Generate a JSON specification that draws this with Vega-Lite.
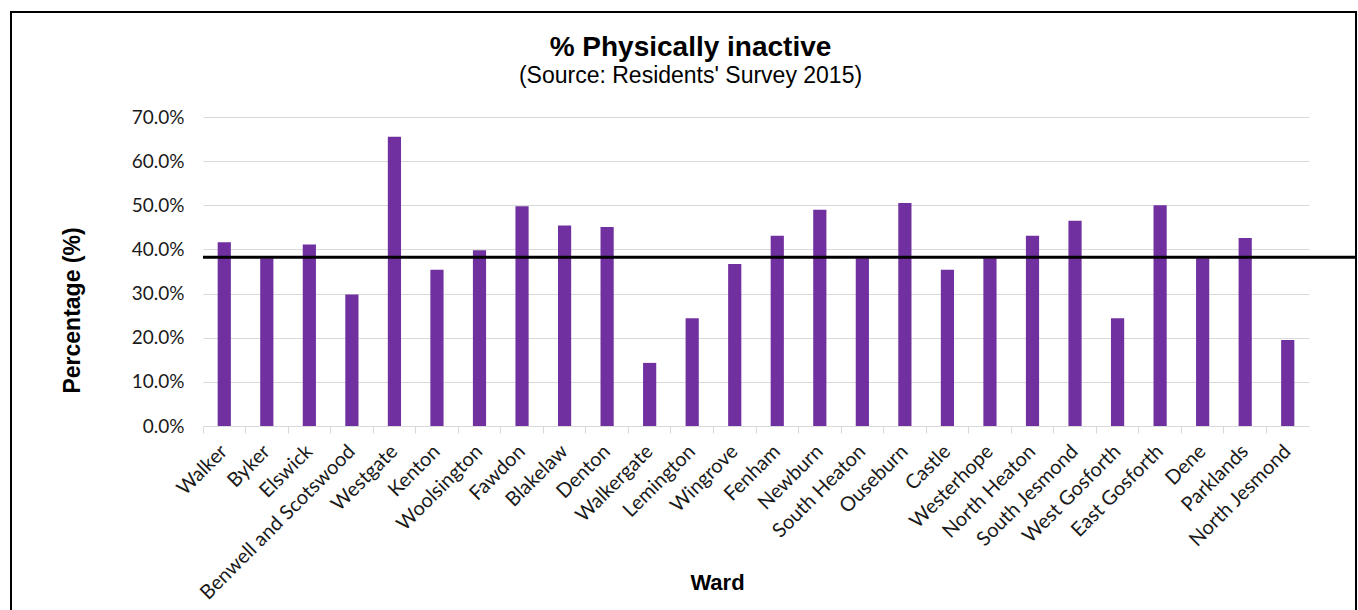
{
  "$schema": "https://vega.github.io/schema/vega-lite/v6.json",
  "autosize": {"type": "none"},
  "width": 1345,
  "height": 600,
  "padding": {"left": 11, "top": 12, "right": 2, "bottom": 0},
  "background": "white",
  "config": {
    "view": {"stroke": "#000000", "strokeWidth": 2},
    "font": "Liberation Sans"
  },
  "title": {
    "text": "% Physically inactive",
    "subtitle": "(Source: Residents' Survey 2015)",
    "anchor": "middle",
    "font": "Liberation Sans",
    "fontSize": 28,
    "fontWeight": "bold",
    "color": "#000000",
    "subtitleFont": "Liberation Sans",
    "subtitleFontSize": 23,
    "subtitleColor": "#000000",
    "subtitlePadding": 3,
    "offset": 0,
    "dx": 7,
    "dy": 76
  },
  "datasets": {
    "wards": [
      {"ward": "Walker", "inactive": 0.416},
      {"ward": "Byker", "inactive": 0.380},
      {"ward": "Elswick", "inactive": 0.411},
      {"ward": "Benwell and Scotswood", "inactive": 0.298},
      {"ward": "Westgate", "inactive": 0.655},
      {"ward": "Kenton", "inactive": 0.354},
      {"ward": "Woolsington", "inactive": 0.398},
      {"ward": "Fawdon", "inactive": 0.498},
      {"ward": "Blakelaw", "inactive": 0.454},
      {"ward": "Denton", "inactive": 0.451},
      {"ward": "Walkergate", "inactive": 0.143},
      {"ward": "Lemington", "inactive": 0.244},
      {"ward": "Wingrove", "inactive": 0.367},
      {"ward": "Fenham", "inactive": 0.431},
      {"ward": "Newburn", "inactive": 0.490},
      {"ward": "South Heaton", "inactive": 0.380},
      {"ward": "Ouseburn", "inactive": 0.505},
      {"ward": "Castle", "inactive": 0.354},
      {"ward": "Westerhope", "inactive": 0.380},
      {"ward": "North Heaton", "inactive": 0.431},
      {"ward": "South Jesmond", "inactive": 0.465},
      {"ward": "West Gosforth", "inactive": 0.244},
      {"ward": "East Gosforth", "inactive": 0.500},
      {"ward": "Dene", "inactive": 0.380},
      {"ward": "Parklands", "inactive": 0.426},
      {"ward": "North Jesmond", "inactive": 0.195}
    ],
    "citywide": [
      {"label": "Newcastle average", "inactive": 0.382}
    ]
  },
  "layer": [
    {
      "data": {"name": "wards"},
      "mark": {"type": "bar", "color": "#7030A0", "width": {"band": 0.31}},
      "encoding": {
        "x": {
          "field": "ward",
          "type": "nominal",
          "sort": null,
          "scale": {"range": [192, 1298], "paddingInner": 0, "paddingOuter": 0},
          "axis": {
            "title": "Ward",
            "bandPosition": 0,
            "offset": -186,
            "labelAngle": -45,
            "labelAlign": "right",
            "labelBaseline": "middle",
            "labelFont": "Lato",
            "labelFontSize": 20,
            "labelColor": "#1a1a1a",
            "labelPadding": 15,
            "labelLimit": 0,
            "labelOverlap": false,
            "ticks": true,
            "tickSize": 7,
            "tickColor": "#d9d9d9",
            "domainColor": "#d9d9d9",
            "grid": false,
            "titleFont": "Liberation Sans",
            "titleFontSize": 22,
            "titleFontWeight": "bold",
            "titleColor": "#000000",
            "titleX": 706,
            "titleY": 163,
            "titleAlign": "center",
            "titleBaseline": "alphabetic"
          }
        },
        "y": {
          "field": "inactive",
          "type": "quantitative",
          "scale": {"domain": [0, 0.7], "range": [414, 105], "nice": false},
          "axis": {
            "title": "Percentage (%)",
            "values": [0, 0.1, 0.2, 0.3, 0.4, 0.5, 0.6, 0.7],
            "format": ".1%",
            "offset": -192,
            "domain": false,
            "ticks": false,
            "grid": true,
            "gridColor": "#d9d9d9",
            "gridWidth": 1,
            "labelFont": "Lato",
            "labelFontSize": 19,
            "labelColor": "#1a1a1a",
            "labelPadding": 19,
            "titleFont": "Liberation Sans",
            "titleFontSize": 23,
            "titleFontWeight": "bold",
            "titleColor": "#000000",
            "titleAngle": -90,
            "titleX": -124,
            "titleY": 298,
            "titleAlign": "center",
            "titleBaseline": "alphabetic"
          }
        }
      }
    },
    {
      "data": {"name": "citywide"},
      "mark": {"type": "rule", "color": "#000000", "strokeWidth": 3},
      "encoding": {
        "y": {"field": "inactive", "type": "quantitative"},
        "x": {"datum": "Walker", "bandPosition": 0},
        "x2": {"value": "width"}
      }
    }
  ]
}
